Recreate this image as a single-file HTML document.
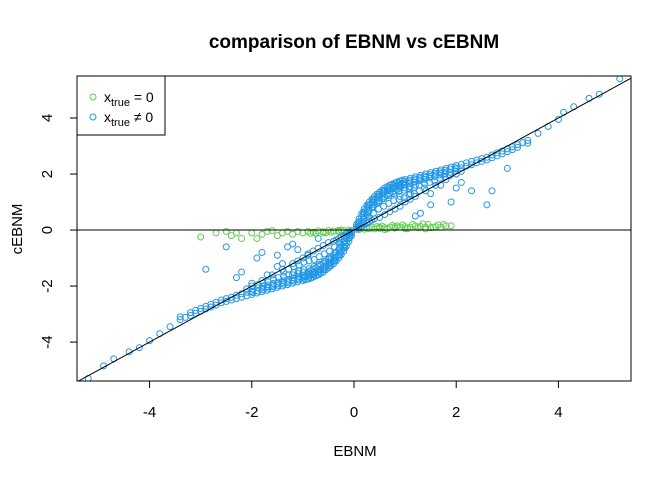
<!DOCTYPE html>
<html><head><meta charset="utf-8"><style>
body{margin:0;background:#fff}
svg{display:block;font-family:"Liberation Sans",Arial,sans-serif}
</style></head><body>
<svg id="chart" width="672" height="480">
<rect width="672" height="480" fill="#fff"/>
<text x="354" y="48" text-anchor="middle" font-size="19" font-weight="bold">comparison of EBNM vs cEBNM</text>
<text x="355" y="456" text-anchor="middle" font-size="15">EBNM</text>
<text transform="translate(22,229) rotate(-90)" text-anchor="middle" font-size="15">cEBNM</text>
<g id="marks"></g>
<rect x="77" y="76" width="554" height="305" fill="none" stroke="#000"/>
<g>
<rect x="77" y="76" width="88" height="59" fill="#fff" stroke="#000"/>
<circle cx="93" cy="97" r="3" fill="none" stroke="#61D04F"/>
<text x="104" y="102" font-size="14">x<tspan font-size="11" dy="4">true</tspan><tspan dy="-4"> = 0</tspan></text>
<circle cx="93" cy="117" r="3" fill="none" stroke="#2297E6"/>
<text x="104" y="122" font-size="14">x<tspan font-size="11" dy="4">true</tspan><tspan dy="-4"> ≠ 0</tspan></text>
</g>
</svg>
<script>
const xTicks=[-4,-2,0,2,4];
const yTicks=[-4,-2,0,2,4];
const blueX=[0.05,0.05,0.05,0.1,0.1,0.1,0.1,0.15,0.15,0.15,0.15,0.2,0.2,0.2,0.2,0.25,0.25,0.25,0.25,0.3,0.3,0.3,0.3,0.35,0.35,0.35,0.35,0.4,0.4,0.4,0.4,0.45,0.45,0.45,0.5,0.5,0.5,0.5,0.55,0.55,0.55,0.6,0.6,0.6,0.6,0.65,0.65,0.65,0.7,0.7,0.7,0.7,0.75,0.75,0.75,0.8,0.8,0.8,0.8,0.85,0.85,0.85,0.9,0.9,0.9,0.9,0.95,0.95,1.0,1.0,1.0,1.0,1.1,1.1,1.1,1.1,1.2,1.2,1.2,1.2,1.3,1.3,1.4,1.4,1.4,1.5,1.5,1.6,1.6,1.6,1.7,1.7,1.8,1.8,1.8,1.9,2.0,2.0,2.0,2.2,2.2,2.4,2.4,2.6,2.6,2.8,2.8,3.0,3.0,3.2,3.2,3.4,3.4,3.6,3.8,4.0,4.1,4.3,4.6,4.8,5.2,1.3,1.5,2.6,2.7,1.9,2.0,1.5,1.7,1.2,2.3,3.0,2.1,1.1,0.9,
-0.05,-0.05,-0.05,-0.1,-0.1,-0.1,-0.1,-0.15,-0.15,-0.15,-0.15,-0.2,-0.2,-0.2,-0.2,-0.25,-0.25,-0.25,-0.25,-0.3,-0.3,-0.3,-0.3,-0.35,-0.35,-0.35,-0.35,-0.4,-0.4,-0.4,-0.4,-0.45,-0.45,-0.45,-0.5,-0.5,-0.5,-0.5,-0.55,-0.55,-0.55,-0.6,-0.6,-0.6,-0.6,-0.65,-0.65,-0.65,-0.7,-0.7,-0.7,-0.7,-0.75,-0.75,-0.75,-0.8,-0.8,-0.8,-0.8,-0.85,-0.85,-0.85,-0.9,-0.9,-0.9,-0.9,-0.95,-0.95,-1.0,-1.0,-1.0,-1.0,-1.1,-1.1,-1.1,-1.1,-1.2,-1.2,-1.2,-1.2,-1.3,-1.3,-1.4,-1.4,-1.4,-1.5,-1.5,-1.6,-1.6,-1.6,-1.7,-1.7,-1.8,-1.8,-1.8,-1.9,-2.0,-2.0,-2.0,-2.2,-2.2,-2.4,-2.4,-2.6,-2.6,-2.8,-2.8,-3.0,-3.0,-3.2,-3.2,-3.4,-3.4,-3.6,-3.8,-4.0,-4.2,-4.4,-4.7,-4.9,-5.2,-1.3,-1.5,-2.5,-2.9,-1.9,-2.2,-1.5,-1.7,-1.2,-2.0,-1.8,-1.1,-0.9,-1.4,-2.3,-0.7];
const blueY=[0.2,0.1,0.03,0.4,0.3,0.15,0.07,0.58,0.45,0.3,0.12,0.75,0.62,0.45,0.2,0.88,0.75,0.55,0.25,1.0,0.88,0.7,0.3,1.1,0.97,0.8,0.35,1.2,1.08,0.9,0.4,1.28,1.15,0.95,1.35,1.22,1.05,0.45,1.42,1.3,1.12,1.5,1.38,1.2,0.55,1.55,1.42,1.25,1.6,1.48,1.3,0.65,1.64,1.52,1.35,1.68,1.56,1.4,0.75,1.72,1.6,1.45,1.75,1.63,1.5,0.85,1.78,1.66,1.8,1.68,1.5,1.0,1.85,1.72,1.55,1.1,1.9,1.78,1.6,1.2,1.95,1.83,2.0,1.88,1.4,2.05,1.92,2.1,1.97,1.6,2.15,2.02,2.2,2.07,1.8,2.25,2.3,2.18,2.0,2.4,2.28,2.5,2.4,2.6,2.5,2.75,2.65,2.9,2.8,3.05,2.95,3.2,3.1,3.45,3.7,3.95,4.2,4.4,4.7,4.85,5.4,0.6,0.9,0.9,1.4,1.0,1.5,1.3,1.6,0.5,1.4,2.2,1.7,1.3,1.2,
-0.2,-0.1,-0.03,-0.4,-0.3,-0.15,-0.07,-0.58,-0.45,-0.3,-0.12,-0.75,-0.62,-0.45,-0.2,-0.88,-0.75,-0.55,-0.25,-1.0,-0.88,-0.7,-0.3,-1.1,-0.97,-0.8,-0.35,-1.2,-1.08,-0.9,-0.4,-1.28,-1.15,-0.95,-1.35,-1.22,-1.05,-0.45,-1.42,-1.3,-1.12,-1.5,-1.38,-1.2,-0.55,-1.55,-1.42,-1.25,-1.6,-1.48,-1.3,-0.65,-1.64,-1.52,-1.35,-1.68,-1.56,-1.4,-0.75,-1.72,-1.6,-1.45,-1.75,-1.63,-1.5,-0.85,-1.78,-1.66,-1.8,-1.68,-1.5,-1.0,-1.85,-1.72,-1.55,-1.1,-1.9,-1.78,-1.6,-1.2,-1.95,-1.83,-2.0,-1.88,-1.4,-2.05,-1.92,-2.1,-1.97,-1.6,-2.15,-2.02,-2.2,-2.07,-1.8,-2.25,-2.3,-2.18,-2.0,-2.4,-2.28,-2.5,-2.4,-2.6,-2.5,-2.75,-2.65,-2.9,-2.8,-3.05,-2.95,-3.2,-3.1,-3.45,-3.7,-3.95,-4.2,-4.35,-4.6,-4.85,-5.3,-0.6,-0.9,-0.6,-1.4,-1.0,-1.5,-1.3,-1.6,-0.5,-1.9,-0.8,-0.7,-0.9,-1.2,-1.7,-0.3];
const bandX=[0.08,0.08,0.08,0.18,0.18,0.18,0.18,0.28,0.28,0.28,0.28,0.38,0.38,0.38,0.38,0.48,0.48,0.48,0.48,0.58,0.58,0.58,0.58,0.68,0.68,0.68,0.68,0.78,0.78,0.78,0.78,0.88,0.88,0.88,0.88,0.98,0.98,0.98,0.98,1.08,1.08,1.08,1.08,1.18,1.18,1.18,1.18,1.28,1.28,1.28,1.28,1.38,1.38,1.38,1.38,1.48,1.48,1.48,1.58,1.58,1.58,1.68,1.68,1.68,1.78,1.78,1.78,1.88,1.88,1.88,1.98,1.98,2.1,2.1,2.1,2.3,2.3,2.5,2.5,2.7,2.7,2.9,2.9,3.1,3.1,3.3,
-0.08,-0.08,-0.08,-0.18,-0.18,-0.18,-0.18,-0.28,-0.28,-0.28,-0.28,-0.38,-0.38,-0.38,-0.38,-0.48,-0.48,-0.48,-0.48,-0.58,-0.58,-0.58,-0.58,-0.68,-0.68,-0.68,-0.68,-0.78,-0.78,-0.78,-0.78,-0.88,-0.88,-0.88,-0.88,-0.98,-0.98,-0.98,-0.98,-1.08,-1.08,-1.08,-1.08,-1.18,-1.18,-1.18,-1.18,-1.28,-1.28,-1.28,-1.28,-1.38,-1.38,-1.38,-1.38,-1.48,-1.48,-1.48,-1.58,-1.58,-1.58,-1.68,-1.68,-1.68,-1.78,-1.78,-1.78,-1.88,-1.88,-1.88,-1.98,-1.98,-2.1,-2.1,-2.1,-2.3,-2.3,-2.5,-2.5,-2.7,-2.7,-2.9,-2.9,-3.1,-3.1,-3.3];
const bandY=[0.26,0.2,0.12,0.64,0.52,0.38,0.25,0.9,0.78,0.62,0.45,1.11,0.99,0.83,0.6,1.27,1.15,1.0,0.75,1.41,1.29,1.12,0.85,1.52,1.4,1.22,0.95,1.6,1.48,1.3,1.05,1.68,1.56,1.38,1.1,1.73,1.61,1.42,1.15,1.78,1.66,1.47,1.25,1.83,1.71,1.52,1.3,1.88,1.76,1.6,1.4,1.93,1.81,1.65,1.5,1.98,1.86,1.7,2.03,1.91,1.75,2.08,1.96,1.85,2.13,2.01,1.9,2.18,2.06,1.95,2.23,2.11,2.35,2.22,2.1,2.45,2.33,2.55,2.45,2.68,2.58,2.82,2.72,2.97,2.87,3.12,
-0.26,-0.2,-0.12,-0.64,-0.52,-0.38,-0.25,-0.9,-0.78,-0.62,-0.45,-1.11,-0.99,-0.83,-0.6,-1.27,-1.15,-1.0,-0.75,-1.41,-1.29,-1.12,-0.85,-1.52,-1.4,-1.22,-0.95,-1.6,-1.48,-1.3,-1.05,-1.68,-1.56,-1.38,-1.1,-1.73,-1.61,-1.42,-1.15,-1.78,-1.66,-1.47,-1.25,-1.83,-1.71,-1.52,-1.3,-1.88,-1.76,-1.6,-1.4,-1.93,-1.81,-1.65,-1.5,-1.98,-1.86,-1.7,-2.03,-1.91,-1.75,-2.08,-1.96,-1.85,-2.13,-2.01,-1.9,-2.18,-2.06,-1.95,-2.23,-2.11,-2.35,-2.22,-2.1,-2.45,-2.33,-2.55,-2.45,-2.68,-2.58,-2.82,-2.72,-2.97,-2.87,-3.12];
const greenX=[-3.0,-2.5,-2.4,-2.3,-2.2,-2.0,-1.9,-1.8,-1.7,-1.5,-1.4,-1.3,-1.2,-1.1,-1.0,-0.9,-0.8,-0.7,-0.6,-0.5,-0.4,-0.3,-0.2,-0.1,0.1,0.2,0.3,0.4,0.5,0.6,0.7,0.8,0.9,1.0,1.1,1.2,1.3,1.4,1.5,1.6,1.7,1.8,1.9,-0.6,-0.3,0.5,0.8,-1.6,-2.7,-0.85,-0.45,0.25,0.65,1.05,1.25,1.55,0.15,0.35,0.45,0.55,0.75,0.85,0.95,1.15,1.35,1.45,1.65,1.75,0.6,1.0,1.4,-0.25,-0.55,-0.75];
const greenY=[-0.25,-0.05,-0.2,-0.1,-0.3,-0.1,-0.3,-0.15,-0.05,-0.2,-0.1,-0.05,-0.15,-0.05,-0.1,-0.05,-0.08,-0.03,-0.06,-0.02,-0.04,-0.01,-0.02,0,0.02,0.03,0.05,0.04,0.06,0.08,0.1,0.07,0.1,0.12,0.1,0.15,0.13,0.1,0.08,0.12,0.1,0.15,0.15,-0.1,-0.05,0.1,0.12,-0.02,-0.1,-0.12,-0.08,0.06,0.04,0.05,0.08,0.1,0.08,0.1,0.12,0.14,0.16,0.15,0.18,0.2,0.22,0.2,0.18,0.2,0.02,0.05,0.04,0.0,-0.1,-0.12];

const L=77,R=631,T=76,B=381,xmin=-5.42,xmax=5.42,ymin=-5.39,ymax=5.5;
const sx=v=>L+(v-xmin)/(xmax-xmin)*(R-L);
const sy=v=>B-(v-ymin)/(ymax-ymin)*(B-T);
const NS="http://www.w3.org/2000/svg";
const svg=document.getElementById('chart');
const g=document.getElementById('marks');
function mk(t,a,p){const e=document.createElementNS(NS,t);for(const k in a)e.setAttribute(k,a[k]);(p||g).appendChild(e);return e;}
const cp=mk('clipPath',{id:'clip'},svg);mk('rect',{x:L,y:T,width:R-L,height:B-T},cp);
const pts=mk('g',{'clip-path':'url(#clip)'});


for(let i=0;i<greenX.length;i++){const c=mk('circle',{cx:sx(greenX[i]),cy:sy(greenY[i]),r:3,fill:'none',stroke:'#61D04F'},pts);

}
for(let i=0;i<blueX.length;i++){const c=mk('circle',{cx:sx(blueX[i]),cy:sy(blueY[i]),r:3,fill:'none',stroke:'#2297E6'},pts);

}
for(let i=0;i<bandX.length;i++){const c=mk('circle',{cx:sx(bandX[i]),cy:sy(bandY[i]),r:3,fill:'none',stroke:'#2297E6'},pts);

}
const h=mk('line',{x1:L,x2:R,y1:sy(0),y2:sy(0),stroke:'#000'});


const d=mk('line',{x1:sx(xmin),y1:sy(xmin),x2:sx(xmax),y2:sy(xmax),stroke:'#000','clip-path':'url(#clip)'});


xTicks.forEach(v=>{const x=sx(v);mk('line',{x1:x,x2:x,y1:B,y2:B+7,stroke:'#000'});
const t=mk('text',{x:x,y:417,'text-anchor':'middle','font-size':15});t.textContent=v;

});
yTicks.forEach(v=>{const y=sy(v);mk('line',{x1:L-7,x2:L,y1:y,y2:y,stroke:'#000'});
const t=mk('text',{transform:`translate(${L-25},${y}) rotate(-90)`,'text-anchor':'middle','font-size':15});t.textContent=v;

});
</script>
</body></html>
